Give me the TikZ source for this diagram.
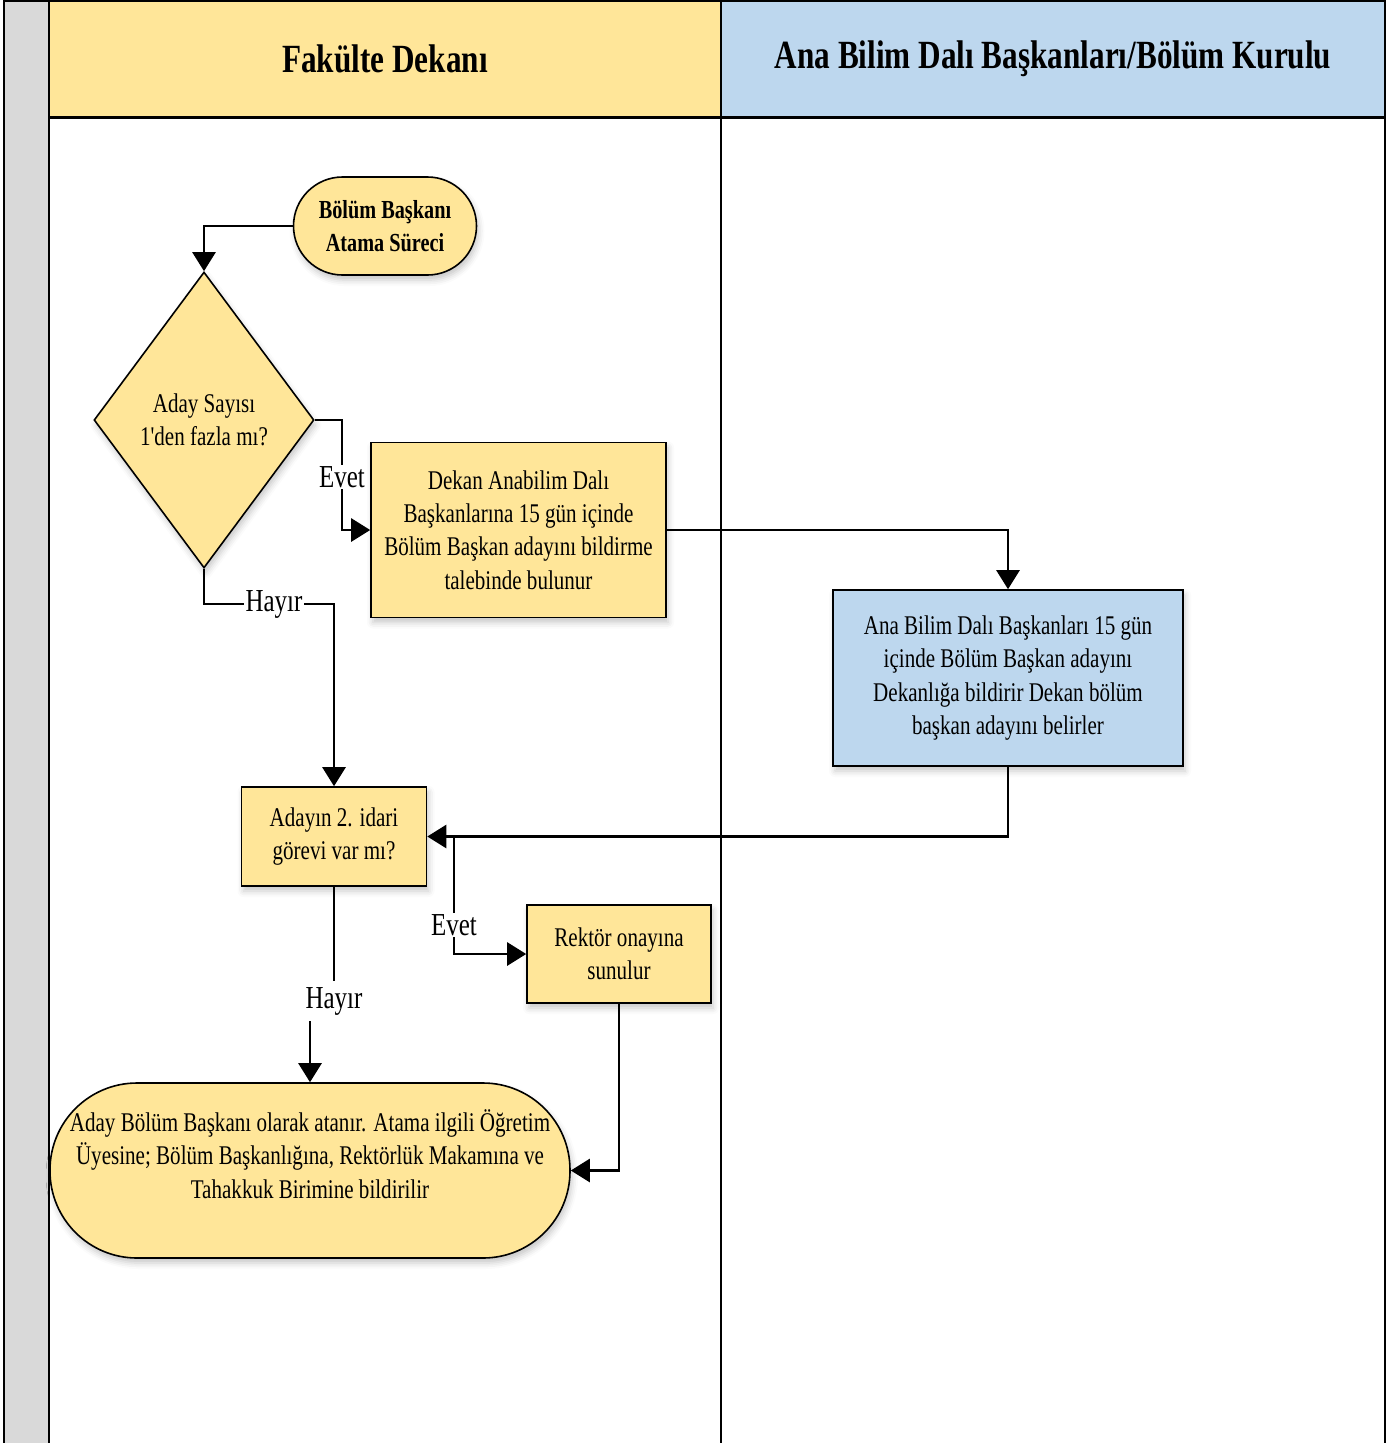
\documentclass[tikz,border=0pt]{standalone}
\usepackage{fontspec}
\setmainfont{Liberation Serif}[FakeStretch=0.78]
% same face without TeX quote mapping, for a straight apostrophe
\newfontfamily\straightquote{Liberation Serif}[FakeStretch=0.78]
\usetikzlibrary{arrows.meta,shapes.geometric,shadows.blur}

\definecolor{laneyellow}{HTML}{FFE699}
\definecolor{laneblue}{HTML}{BDD7EE}
\definecolor{stripgray}{HTML}{D9D9D9}

\tikzset{
  x=1pt, y=-1pt,
  soft/.style={blur shadow={shadow xshift=2pt, shadow yshift=-5pt,
      shadow blur radius=6pt, shadow opacity=22}},
  boxbase/.style={draw=black, line width=1.6pt, inner sep=0pt, align=center,
      font=\fontsize{27}{33.3}\selectfont, soft},
  procbox/.style={boxbase, rectangle, fill=laneyellow},
  bluebox/.style={boxbase, rectangle, fill=laneblue},
  termbox/.style={boxbase, rectangle, fill=laneyellow},
  decbox/.style={boxbase, diamond, fill=laneyellow},
  flow/.style={line width=2.6pt, -{Triangle[length=19pt,width=23pt]}},
  lbl/.style={fill=white, inner sep=1.5pt, font=\fontsize{32}{36}\selectfont},
  lanehead/.style={font=\bfseries\fontsize{40}{48}\selectfont, inner sep=0pt},
  border/.style={line width=2pt},
}

\begin{document}
\begin{tikzpicture}
\useasboundingbox (0,0) rectangle (1395,1443);

% swimlane frame
\fill[stripgray] (4,0) rectangle (49,1443);
\fill[laneyellow] (49,0) rectangle (721,117);
\fill[laneblue] (721,0) rectangle (1385,117);
\draw[border] (4,1) -- (1385,1);
\draw[border] (4,0) -- (4,1443);
\draw[border] (49,0) -- (49,1443);
\draw[border] (721,0) -- (721,1443);
\draw[border] (1385,0) -- (1385,1443);
\draw[line width=3pt] (49,117) -- (1385,117);

\node[lanehead] (lane1) at (385,59) {Fakülte Dekanı};
\node[lanehead] (lane2) at (1053,59) {Ana Bilim Dalı Başkanları/Bölüm Kurulu};

% process steps
\node[termbox, minimum width=183pt, minimum height=98pt, rounded corners=49pt,
      font=\bfseries\fontsize{26}{33}\selectfont] (start) at (385,226)
      {Bölüm Başkanı\\Atama Süreci};

\node[decbox, minimum width=220pt, minimum height=296pt] (dec1) at (204,420)
      {Aday Sayısı\\1{\straightquote'}den fazla mı?};

\node[procbox, minimum width=295pt, minimum height=175pt] (req) at (518.5,530)
      {Dekan Anabilim Dalı\\Başkanlarına 15 gün içinde\\Bölüm Başkan adayını bildirme\\talebinde bulunur};

\node[bluebox, minimum width=350pt, minimum height=176pt] (notify) at (1008,678)
      {Ana Bilim Dalı Başkanları 15 gün\\içinde Bölüm Başkan adayını\\Dekanlığa bildirir Dekan bölüm\\başkan adayını belirler};

\node[procbox, minimum width=185pt, minimum height=99pt] (dec2) at (334,836.5)
      {Adayın 2. idari\\görevi var mı?};

\node[procbox, minimum width=184pt, minimum height=98pt] (rector) at (619,954)
      {Rektör onayına\\sunulur};

\node[termbox, minimum width=520pt, minimum height=175pt, rounded corners=87pt] (finish) at (310,1170.5) {};
\node[align=center, inner sep=0pt, font=\fontsize{27}{33.5}\selectfont] (finishtext) at (310,1154)
      {Aday Bölüm Başkanı olarak atanır. Atama ilgili Öğretim\\Üyesine; Bölüm Başkanlığına, Rektörlük Makamına ve\\Tahakkuk Birimine bildirilir};

% bend points
\coordinate (evetA) at (342,420);
\coordinate (hayirA) at (334,604);
\coordinate (evetB) at (454,836.5);
\coordinate (hayirB) at (334,1001);
\coordinate (hayirC) at (310,1001);

% connectors
\draw[flow] (start.west) -| (dec1.north);
\draw[flow] (dec1.east) -- (evetA) |- (req.west);
\draw[flow] (req.east) -| (notify.north);
\draw[flow] (notify.south) |- (dec2.east);
\draw[flow] (dec1.south) |- (hayirA) -- (dec2.north);
\draw[flow] (evetB) |- (rector.west);
\draw[flow] (dec2.south) -- (hayirB) -- (hayirC) -- (finish.north);
\draw[flow] (rector.south) |- (finish.east);

% branch labels
\node[lbl] (evet1) at (342,477) {Evet};
\node[lbl] (hayir1) at (274,604) {Hayır};
\node[lbl] (evet2) at (454,925) {Evet};
\node[lbl, inner ysep=6pt] (hayir2) at (334,1001) {Hayır};
\end{tikzpicture}
\end{document}
